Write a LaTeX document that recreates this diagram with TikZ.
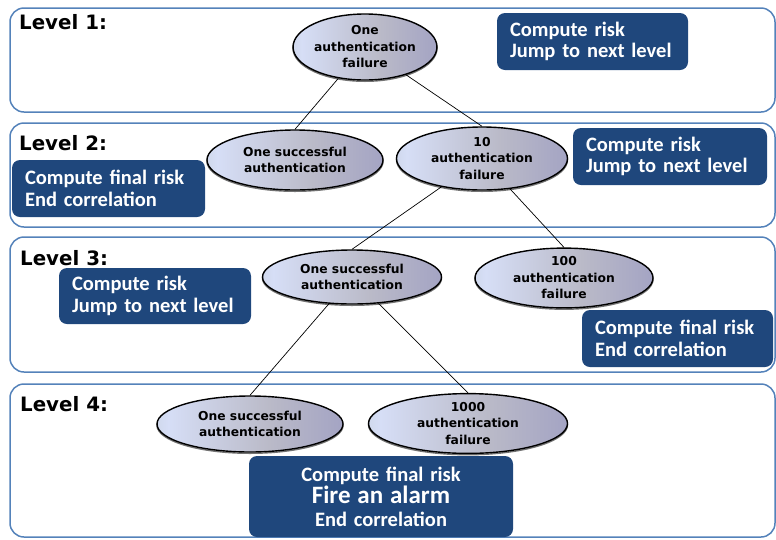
\documentclass[tikz,border=0pt]{standalone}
\usepackage{fontspec}
\usetikzlibrary{shapes.geometric}
\newfontfamily\dejavu{DejaVu Sans}
\newfontfamily\carl{Carlito}
\definecolor{panelblue}{RGB}{84,130,186}
\definecolor{boxblue}{RGB}{31,71,124}
\definecolor{shA}{RGB}{160,172,160}
\definecolor{shB}{RGB}{214,222,246}
\definecolor{shC}{RGB}{186,186,200}
\definecolor{shD}{RGB}{136,136,190}
\pgfdeclarehorizontalshading{ellshade}{100bp}{color(0bp)=(shA); color(28bp)=(shB); color(55bp)=(shC); color(100bp)=(shD)}
\tikzset{
  panel/.style={draw=panelblue, line width=1.5pt, rounded corners=14pt},
  lvl/.style={anchor=base west, inner sep=0pt, font=\dejavu\bfseries\fontsize{19.8}{22}\selectfont},
  ell/.style={ellipse, draw=black, line width=1.4pt, shading=ellshade, inner sep=0pt,
    preaction={draw=black!55, line width=1.4pt, transform canvas={yshift=-1.3pt}},
    align=center, font=\dejavu\bfseries\fontsize{12.3}{16.5}\selectfont},
  bbox/.style={fill=boxblue, rounded corners=8pt, text=white, inner xsep=13pt, inner ysep=0pt,
    align=left, font=\carl\bfseries\fontsize{20.5}{21.5}\selectfont},
  link/.style={draw=black, line width=0.7pt}
}
\begin{document}
\begin{tikzpicture}[x=1pt,y=-1pt]
\useasboundingbox (0,0) rectangle (776,539);
% panels
\draw[panel] (10,8) rectangle (775,112);
\draw[panel] (10,123) rectangle (775,227);
\draw[panel] (10,237) rectangle (775,372);
\draw[panel] (10,384) rectangle (775,537);
\node[lvl] (l1) at (19,29) {Level 1:};
\node[lvl] (l2) at (19,150) {Level 2:};
\node[lvl] (l3) at (20,265) {Level 3:};
\node[lvl] (l4) at (20,411) {Level 4:};
% ellipses
\node[ell, minimum width=131pt, minimum height=66pt] (e1) at (365,47) {One\\authentication\\failure};
\node[ell, minimum width=176pt, minimum height=60pt] (e2a) at (295,160) {One successful\\authentication};
\node[ell, minimum width=171pt, minimum height=63pt] (e2b) at (482,158.5) {10\\authentication\\failure};
\node[ell, minimum width=179pt, minimum height=54pt] (e3a) at (352,277) {One successful\\authentication};
\node[ell, minimum width=178pt, minimum height=54pt] (e3b) at (564,278) {100\\authentication\\failure};
\node[ell, minimum width=186pt, minimum height=56pt] (e4a) at (250,424) {One successful\\authentication};
\node[ell, minimum width=199pt, minimum height=55pt] (e4b) at (468,423.5) {1000\\authentication\\failure};
% links
\draw[link] (e1) -- (e2a.north);
\draw[link] (e1) -- (e2b.north);
\draw[link] (e2b) -- (e3a.north);
\draw[link] (e2b) -- (e3b.north);
\draw[link] (e3a) -- (e4a.north);
\draw[link] (e3a) -- (e4b.north);
% boxes
\node[bbox, minimum width=191pt, minimum height=57pt, text width=165pt] (b1) at (592.5,41.5) {Compute risk\\Jump to next level};
\node[bbox, minimum width=194pt, minimum height=57pt, text width=168pt] (b2r) at (670,156.5) {Compute risk\\Jump to next level};
\node[bbox, minimum width=193pt, minimum height=57pt, text width=167pt] (b2l) at (108.5,188.5) {Compute final risk\\End correlation};
\node[bbox, minimum width=192pt, minimum height=56pt, text width=166pt] (b3l) at (155,296) {Compute risk\\Jump to next level};
\node[bbox, minimum width=191pt, minimum height=57pt, text width=165pt] (b3r) at (677.5,338.5) {Compute final risk\\End correlation};
\node[bbox, minimum width=264pt, minimum height=81pt, text width=238pt, align=center] (b4) at (381,496.5)
  {Compute final risk\\[1pt]{\fontsize{25}{25}\selectfont Fire an alarm}\\[1pt]End correlation};
\end{tikzpicture}
\end{document}
